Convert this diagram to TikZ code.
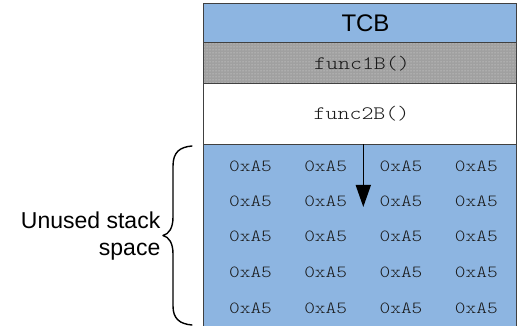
\documentclass[tikz,border=0pt]{standalone}
\usepackage{fontspec}
\setmainfont{Liberation Sans}
\newfontfamily\monof[FakeStretch=1.2]{Latin Modern Mono Light}
\usetikzlibrary{arrows.meta,patterns}
\definecolor{stackblue}{RGB}{141,181,225}
\definecolor{bandgray}{RGB}{160,160,160}
\definecolor{linegray}{RGB}{64,64,64}
\definecolor{textgray}{RGB}{25,25,25}
\begin{document}
\begin{tikzpicture}[x=1pt,y=-1pt,
  hex/.style={font=\monof\fontsize{17}{17}\selectfont, text=textgray, inner sep=0pt},
  funclabel/.style={font=\monof\fontsize{19}{19}\selectfont, text=textgray, inner sep=0pt},
  title/.style={font=\fontsize{23}{27}\selectfont, inner sep=0pt},
  border/.style={draw=linegray, line width=1pt},
  growarrow/.style={line width=1.6pt, -{Triangle[width=15pt,length=22pt]}},
  bracestroke/.style={line width=1.4pt, line cap=round, line join=round}]
\useasboundingbox (0,0) rectangle (517,326);
% region fills
\fill[stackblue] (203,4) rectangle (516,43);
\fill[bandgray] (203,43) rectangle (516,84);
\fill[pattern=dots, pattern color=gray!25] (203,43) rectangle (516,84);
\fill[white] (203,84) rectangle (516,144.5);
\fill[stackblue] (203,144.5) rectangle (516,326);
% borders
\draw[border] (203,326) -- (203,4) -- (516,4) -- (516,326);
\draw[border] (203,43) -- (516,43);
\draw[border] (203,84) -- (516,84);
\draw[border] (203,144.5) -- (516,144.5);
% labels
\node[title, font=\fontsize{24}{27}\selectfont] (tcb) at (365.5,23.5) {TCB};
\node[funclabel] (f1) at (362,63.5) {func1B()};
\node[funclabel] (f2) at (361.5,113.5) {func2B()};
% hex grid
\foreach \y [count=\r] in {166.5,201,236.5,272,308} {
  \foreach \x [count=\c] in {250.5,325.7,401,476.3} {
    \node[hex] (h\r\c) at (\x,\y) {0xA5};
  }
}
% growth arrow
\coordinate (arrS) at (363.3,144.5);
\coordinate (arrE) at (363.3,207);
\draw[growarrow] (arrS) -- (arrE);
% brace
\draw[bracestroke] (192,146) .. controls (180,147) and (173,152) .. (173,166)
  -- (173,217) .. controls (173,228) and (169,234) .. (163,235.5)
  .. controls (169,237) and (173,243) .. (173,254)
  -- (173,306) .. controls (173,319) and (180,324) .. (192,325);
\node[title, align=right, anchor=east] (unused) at (160.5,236.5) {Unused stack\\space};
\end{tikzpicture}
\end{document}
